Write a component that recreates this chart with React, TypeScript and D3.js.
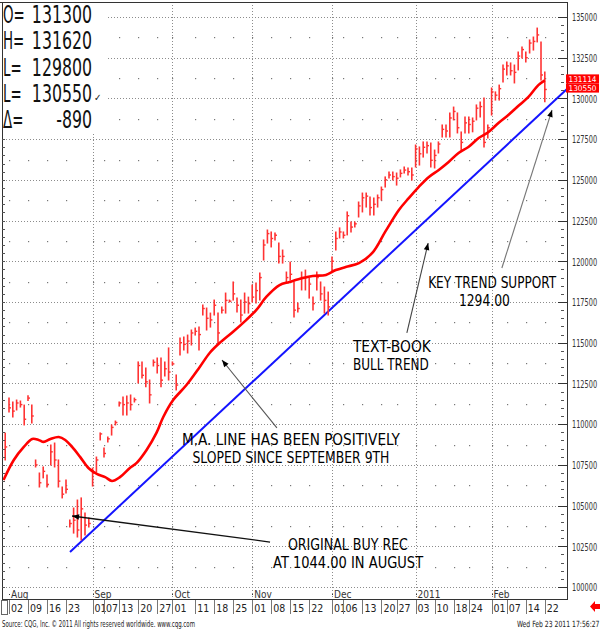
import React from 'react';
import * as d3 from 'd3';

// ---------- DATA (chart units: price x 100) ----------
const FIRST_DAY = -1; // Jul 30 2010 ; day 0 = Aug 02 2010 (trading-day index)
const highs = [
  109450, 111600, 111360, 111480, 111420, 111170, 111750, 111170, 107800, 107000,
  107370, 106880, 108720, 108840, 107800, 106140, 106570, 104110, 104850, 105340,
  105470, 104540, 104230, 107300, 107980, 109460, 108540, 109210, 109950, 110190,
  111360, 111670, 111730, 111790, 111600, 113820, 113820, 113450, 112710, 113940,
  114060, 114060, 113820, 114680, 113820, 113020, 115290, 115350, 115470, 115780,
  115900, 115960, 117320, 117130, 116820, 117620, 116820, 117190, 118050, 117620,
  118730, 117740, 117620, 118050, 117800, 118540, 118660, 119280, 121310, 121920,
  121800, 121740, 121120, 120690, 119340, 119950, 118730, 117440, 119340, 119460,
  118970, 117800, 119340, 118730, 118420, 118110, 120260, 121800, 122050, 121800,
  123030, 122410, 122410, 123640, 124190, 124190, 123950, 123890, 124070, 124560,
  125180, 125480, 125480, 125420, 125610, 125790, 125730, 125730, 127140, 127020,
  127330, 127330, 127260, 126830, 127330, 128370, 128370, 129110, 129470, 129110,
  127940, 128860, 128860, 128800, 129600, 129780, 130030, 128370, 130640, 130400,
  130820, 132050, 132240, 132180, 132050, 132850, 133160, 132850, 133590, 133770,
  134320, 133470, 131620,
];
const lows = [
  107800, 110750, 110440, 110870, 111050, 109950, 111450, 110070, 107370, 106140,
  106700, 106140, 107490, 107370, 106140, 105470, 105770, 103680, 103310, 103070,
  102890, 103190, 103680, 106200, 107060, 109030, 107980, 108900, 109330, 109950,
  111110, 110560, 110560, 110870, 111360, 112530, 112840, 112290, 111300, 113570,
  113140, 112290, 112960, 112710, 113630, 112100, 114250, 114550, 114370, 114860,
  115470, 114550, 116700, 115780, 115960, 116700, 114980, 116820, 116820, 117500,
  117620, 116880, 116270, 116820, 116820, 117500, 117440, 117620, 120080, 121120,
  120880, 121310, 119890, 119890, 118730, 118850, 116580, 116880, 118240, 118240,
  117740, 117010, 118240, 117620, 116820, 116700, 119340, 120690, 121430, 121430,
  121620, 121800, 122110, 122720, 123030, 123330, 122840, 122840, 123330, 123760,
  124560, 125110, 124990, 124680, 125180, 125420, 125300, 124990, 125790, 125910,
  126400, 126650, 125790, 125730, 126650, 127630, 127630, 127630, 128680, 127880,
  126830, 127880, 127880, 127950, 128680, 128860, 127020, 127570, 128980, 129900,
  129900, 131010, 131440, 131440, 130950, 131750, 132480, 132240, 132790, 132970,
  133470, 131130, 129800,
];
const closes = [
  108600, 111000, 110800, 111300, 111200, 110300, 111600, 110500, 107500, 106400,
  107100, 106300, 108300, 107800, 106500, 105700, 106000, 103900, 104100, 103500,
  104800, 103800, 103900, 107000, 107800, 109400, 108200, 109100, 109800, 110100,
  111300, 111200, 111300, 111200, 111500, 113600, 113000, 112600, 111800, 113800,
  113600, 112700, 113400, 113200, 113700, 112400, 115000, 114900, 115100, 115600,
  115700, 115500, 117100, 116500, 116400, 117300, 115600, 117000, 117600, 117550,
  118000, 117300, 116700, 117500, 117400, 117800, 118200, 119000, 121000, 121700,
  121400, 121600, 120300, 120300, 119000, 119200, 117000, 117100, 119000, 119000,
  118600, 117400, 119000, 118000, 117600, 117200, 120000, 121400, 121800, 121600,
  122800, 122100, 122300, 123400, 123900, 124000, 123300, 123500, 123900, 124400,
  125000, 125300, 125200, 125100, 125400, 125600, 125500, 125300, 126900, 126600,
  127000, 127100, 126200, 126500, 127200, 128100, 128000, 128800, 129200, 128200,
  127300, 128500, 128400, 128600, 129400, 129500, 127300, 128200, 130400, 130200,
  130600, 131800, 132000, 131700, 131600, 132600, 133000, 132500, 133400, 133500,
  133900, 131440, 130550,
];

// moving-average line (day index, value)
const maDays = [
  -1.44, 1.26, 3.9, 6.1, 7.8, 9.1, 10.9, 13.1, 14.8, 16.6, 18.7, 20.9, 23.1, 25.3,
  27.1, 29.2, 31.8, 33.6, 36.2, 38.8, 40.6, 43.2, 46.7, 50.2, 52.8, 55.4, 58.9,
  62.4, 65.1, 67.7, 71.2, 73.8, 77.3, 79.9, 83.4, 86, 88.6, 92.1, 95.6, 99.1,
  102.6, 105.2, 107.8, 110.5, 113.1, 115.7, 118.3, 120.9, 123.6, 126.2, 128.8,
  131.4, 134, 136.7, 139.3, 141,
];
const maValues = [
  106570, 107800, 108600, 109090, 109030, 108910, 109090, 109210, 109030, 108600,
  107990, 107310, 106940, 106750, 106510, 106750, 107310, 107620, 108410, 109460,
  110440, 111480, 112400, 113510, 114370, 114980, 115660, 116390, 117010, 117810,
  118540, 118730, 118970, 119100, 119160, 119460, 119650, 119890, 120510, 121850,
  123150, 123880, 124560, 125180, 125610, 126100, 126650, 127020, 127570, 127940,
  128490, 128980, 129530, 130090, 130820, 131114,
];
const maLast = 131114;
const lastPrice = 130550;

// blue trend line (day index, value)
const trendDays = [16.05, 146.84];
const trendValues = [102150, 130580];

const priceTicks = [
  100000, 102500, 105000, 107500, 110000, 112500, 115000, 117500, 120000, 122500,
  125000, 127500, 130000, 132500, 135000,
];
const dayTickIdx = [0, 5, 10, 15, 22, 25, 29, 34, 39, 43, 49, 54, 59, 64, 69, 74, 79, 85, 88, 93, 98, 102, 107, 112, 117, 121, 127, 131, 136, 141];
const dayTickLabels = ['02', '09', '16', '23', '01', '07', '13', '20', '27', '01', '11', '18', '25', '01', '08', '15', '22', '01', '06', '13', '20', '27', '03', '10', '18', '24', '01', '07', '14', '22'];
const monthIdx = [0, 22, 43, 64, 85, 107, 127];
const monthLabels = ['Aug', 'Sep', 'Oct', 'Nov', 'Dec', '2011', 'Feb'];

const headerLabels = ['O=', 'H=', 'L=', 'L=', 'Δ='];
const headerValues = ['131300', '131620', '129800', '130550', '-890'];

// ---------- LAYOUT ----------
const W = 600, H = 630;
const L = 3, R = 567, T = 2, B = 599;
const NARROW = "'Liberation Sans Narrow', 'DejaVu Sans Condensed', 'Arial Narrow', sans-serif";

const x = d3.scaleLinear().domain([-1.58, 146.84]).range([L, R]);
const y = d3.scaleLinear().domain([100000, 135000]).range([587, 17]);

function SText(props: {
  x: number; y: number; sx: number; size: number; anchor?: 'start' | 'end' | 'middle';
  fill?: string; family?: string; children: React.ReactNode;
}) {
  const { x: tx, y: ty, sx, size, anchor = 'start', fill = '#111', family = NARROW } = props;
  return (
    <text transform={`translate(${tx},${ty}) scale(${sx},1)`} textAnchor={anchor} fontSize={size}
      fontFamily={family} fill={fill}>{props.children}</text>
  );
}

export default function App() {
  const bars = highs.map((h, k) => ({ d: FIRST_DAY + k, h, l: lows[k], c: closes[k] }));
  const maLine = d3.line<number>()
    .x((_, k) => x(maDays[k]))
    .y((v) => y(v))
    .curve(d3.curveCatmullRom.alpha(0.5))(maValues) || '';

  const minor: number[] = [];
  for (let v = 100000; v <= 135000; v += 500) minor.push(v);
  const halfLevels = priceTicks.slice(0, -1).map((v) => v + 1250);

  // annotation anchors in data space
  const ann = {
    maText: { d: 74.2, v1: 108720, v2: 107620 },
    maArrow: { d1: 70.5, v1: 109765, d2: 56.05, v2: 113940 },
    bull: { d: 90.5, v1: 114430, v2: 113330 },
    bullArrow: { d1: 104.7, v1: 115600, d2: 110.3, v2: 121120 },
    key: { d1: 110.3, v1: 118360, d2: 118.4, v2: 117260 },
    keyArrow: { d1: 129.7, v1: 119590, d2: 142.9, v2: 129290 },
    buy: { d1: 73.4, v1: 102270, d2: 69.5, v2: 101170 },
    buyArrow: { d1: 68.7, v1: 102760, d2: 16.6, v2: 104360 },
  };
  const annStyle = { fontFamily: NARROW, fontSize: 15.5, fill: '#000', fontWeight: 500 } as const;

  // value-label baselines on the right axis
  const maBase = y(maLast) + 1.5;
  const lastBase = Math.max(y(lastPrice) + 1.4, maBase + 9.1);

  return (
    <svg width={W} height={H} style={{ position: 'absolute', left: 0, top: 0, background: '#fff' }}>
      <defs>
        <marker id="ah" viewBox="0 0 10 10" refX={10} refY={5} markerUnits="userSpaceOnUse" markerWidth={8} markerHeight={7} orient="auto">
          <path d="M0,1 L10,5 L0,9 z" fill="#000" />
        </marker>
      </defs>
      <rect width={W} height={H} fill="#fff" />

      {/* horizontal dotted grid */}
      {priceTicks.map((v) => (
        <line key={'g' + v} x1={L} x2={R} y1={Math.round(y(v)) + 0.5} y2={Math.round(y(v)) + 0.5}
          stroke="#8c8c8c" strokeDasharray="1 2" />
      ))}
      {/* vertical month grid */}
      {monthIdx.slice(1).map((d) => (
        <line key={'v' + d} x1={Math.round(x(d)) + 0.5} x2={Math.round(x(d)) + 0.5} y1={T} y2={B}
          stroke="#8c8c8c" strokeDasharray="1 2" />
      ))}
      {/* sparse dots */}
      {dayTickIdx.map((d) => halfLevels.map((v) => (
        <rect key={'s' + d + '-' + v} x={Math.round(x(d))} y={Math.round(y(v))} width={1.2} height={1.2} fill="#777" />
      )))}

      {/* trend line */}
      <line x1={x(trendDays[0])} y1={y(trendValues[0])} x2={x(trendDays[1])} y2={y(trendValues[1])}
        stroke="#1414ff" strokeWidth={2} />

      {/* price bars */}
      {bars.map((b) => (
        <g key={'b' + b.d} stroke="#ff3333" strokeWidth={1.6}>
          <line x1={x(b.d)} x2={x(b.d)} y1={y(b.h) - 0.5} y2={y(b.l) + 0.5} />
          <line x1={x(b.d)} x2={x(b.d) + 2} y1={y(b.c)} y2={y(b.c)} strokeWidth={1.4} />
        </g>
      ))}

      {/* moving average */}
      <path d={maLine} fill="none" stroke="#ff0000" strokeWidth={2.6} strokeLinejoin="round" />

      {/* annotations */}
      <line x1={x(ann.maArrow.d1)} y1={y(ann.maArrow.v1)} x2={x(ann.maArrow.d2)} y2={y(ann.maArrow.v2)}
        stroke="#555" strokeWidth={1.1} markerEnd="url(#ah)" />
      <text x={x(ann.maText.d)} y={y(ann.maText.v1)} textAnchor="middle" textLength={218} lengthAdjust="spacingAndGlyphs" {...annStyle}>M.A. LINE HAS BEEN POSITIVELY</text>
      <text x={x(ann.maText.d)} y={y(ann.maText.v2)} textAnchor="middle" textLength={197} lengthAdjust="spacingAndGlyphs" {...annStyle}>SLOPED SINCE SEPTEMBER 9TH</text>

      <line x1={x(ann.bullArrow.d1)} y1={y(ann.bullArrow.v1)} x2={x(ann.bullArrow.d2)} y2={y(ann.bullArrow.v2)}
        stroke="#444" strokeWidth={1.1} markerEnd="url(#ah)" />
      <text x={x(ann.bull.d)} y={y(ann.bull.v1)} textLength={78} lengthAdjust="spacingAndGlyphs" {...annStyle}>TEXT-BOOK</text>
      <text x={x(ann.bull.d)} y={y(ann.bull.v2)} textLength={76} lengthAdjust="spacingAndGlyphs" {...annStyle}>BULL TREND</text>

      <line x1={x(ann.keyArrow.d1)} y1={y(ann.keyArrow.v1)} x2={x(ann.keyArrow.d2)} y2={y(ann.keyArrow.v2)}
        stroke="#777" strokeWidth={1.1} markerEnd="url(#ah)" />
      <text x={x(ann.key.d1)} y={y(ann.key.v1)} textLength={128} lengthAdjust="spacingAndGlyphs" {...annStyle}>KEY TREND SUPPORT</text>
      <text x={x(ann.key.d2)} y={y(ann.key.v2)} textLength={51} lengthAdjust="spacingAndGlyphs" {...annStyle}>1294.00</text>

      <line x1={x(ann.buyArrow.d1)} y1={y(ann.buyArrow.v1)} x2={x(ann.buyArrow.d2)} y2={y(ann.buyArrow.v2)}
        stroke="#111" strokeWidth={1.3} markerEnd="url(#ah)" />
      <text x={x(ann.buy.d1)} y={y(ann.buy.v1)} textLength={120} lengthAdjust="spacingAndGlyphs" {...annStyle}>ORIGINAL BUY REC</text>
      <text x={x(ann.buy.d2)} y={y(ann.buy.v2)} textLength={150} lengthAdjust="spacingAndGlyphs" {...annStyle}>AT 1044.00 IN AUGUST</text>

      {/* header box */}
      <rect x={0} y={0} width={106} height={134} fill="#fff" />
      {headerLabels.map((lab, k) => {
        const base = 23 + k * 26.3;
        return (
          <g key={'h' + k}>
            <SText x={3} y={base} sx={0.62} size={24}>{lab}</SText>
            <SText x={92} y={base} sx={0.73} size={24} anchor="end">{headerValues[k]}</SText>
            {k === 3 && <SText x={94} y={base - 1} sx={0.9} size={10} family="'DejaVu Sans', sans-serif">✓</SText>}
          </g>
        );
      })}

      {/* frame */}
      <line x1={0} x2={R} y1={T + 0.5} y2={T + 0.5} stroke="#333" />
      <line x1={2.5} x2={2.5} y1={T} y2={B} stroke="#333" />
      <line x1={R + 0.5} x2={R + 0.5} y1={T} y2={B + 1} stroke="#333" />
      <line x1={2} x2={R} y1={B + 0.5} y2={B + 0.5} stroke="#333" />

      {/* left minor ticks */}
      {minor.filter((v) => y(v) > 136).map((v) => (
        <line key={'lt' + v} x1={2} x2={5} y1={Math.round(y(v)) + 0.5} y2={Math.round(y(v)) + 0.5} stroke="#555" />
      ))}
      {/* right ticks */}
      {minor.map((v) => (
        <line key={'rt' + v} x1={561} x2={564} y1={Math.round(y(v)) + 0.5} y2={Math.round(y(v)) + 0.5} stroke="#555" />
      ))}
      {priceTicks.map((v) => (
        <line key={'rT' + v} x1={558} x2={R} y1={Math.round(y(v)) + 0.5} y2={Math.round(y(v)) + 0.5} stroke="#333" />
      ))}
      {priceTicks.map((v) => (
        <SText key={'rl' + v} x={572} y={y(v) + 4.3} sx={0.73} size={10} fill="#333">{String(v)}</SText>
      ))}

      {/* last value boxes */}
      <rect x={566} y={maBase - 7.4} width={33} height={9.1} fill="#ff0000" />
      <rect x={566} y={lastBase - 7.4} width={33} height={9.1} fill="#ff0000" />
      <SText x={582.5} y={maBase} sx={1.05} size={7.8} anchor="middle" fill="#fff">{String(maLast)}</SText>
      <SText x={582.5} y={lastBase} sx={1.05} size={7.8} anchor="middle" fill="#fff">{String(lastPrice)}</SText>

      {/* month labels */}
      {monthIdx.map((d, k) => (
        <g key={'m' + d}>
          <rect x={Math.round(x(d))} y={594} width={1} height={1} fill="#333" />
          <text x={x(d) + 2} y={597.5} fontFamily={NARROW} fontSize={10} fill="#333">{monthLabels[k]}</text>
        </g>
      ))}
      {/* day labels */}
      <rect x={1.5} y={600.5} width={6} height={14} fill="none" stroke="#666" />
      {dayTickIdx.map((d, k) => (
        <g key={'d' + k}>
          <line x1={Math.round(x(d)) + 0.5} x2={Math.round(x(d)) + 0.5} y1={600} y2={614} stroke="#777" />
          <text x={x(d) + 2} y={611.5} fontFamily={NARROW} fontSize={10.5} fill="#222">{dayTickLabels[k]}</text>
        </g>
      ))}

      {/* footer */}
      <text x={2} y={626.5} fontFamily={NARROW} fontSize={8.5} fill="#222" textLength={193} lengthAdjust="spacingAndGlyphs">Source: CQG, Inc. © 2011 All rights reserved worldwide. www.cqg.com</text>
      <SText x={599.5} y={626.5} sx={0.8} size={8.5} anchor="end" fill="#222">Wed Feb 23 2011 17:56:27</SText>
      <polygon points="590,606.5 595,601 595,604 600,604 600,609 595,609 595,612" fill="#ff0000" />
    </svg>
  );
}
